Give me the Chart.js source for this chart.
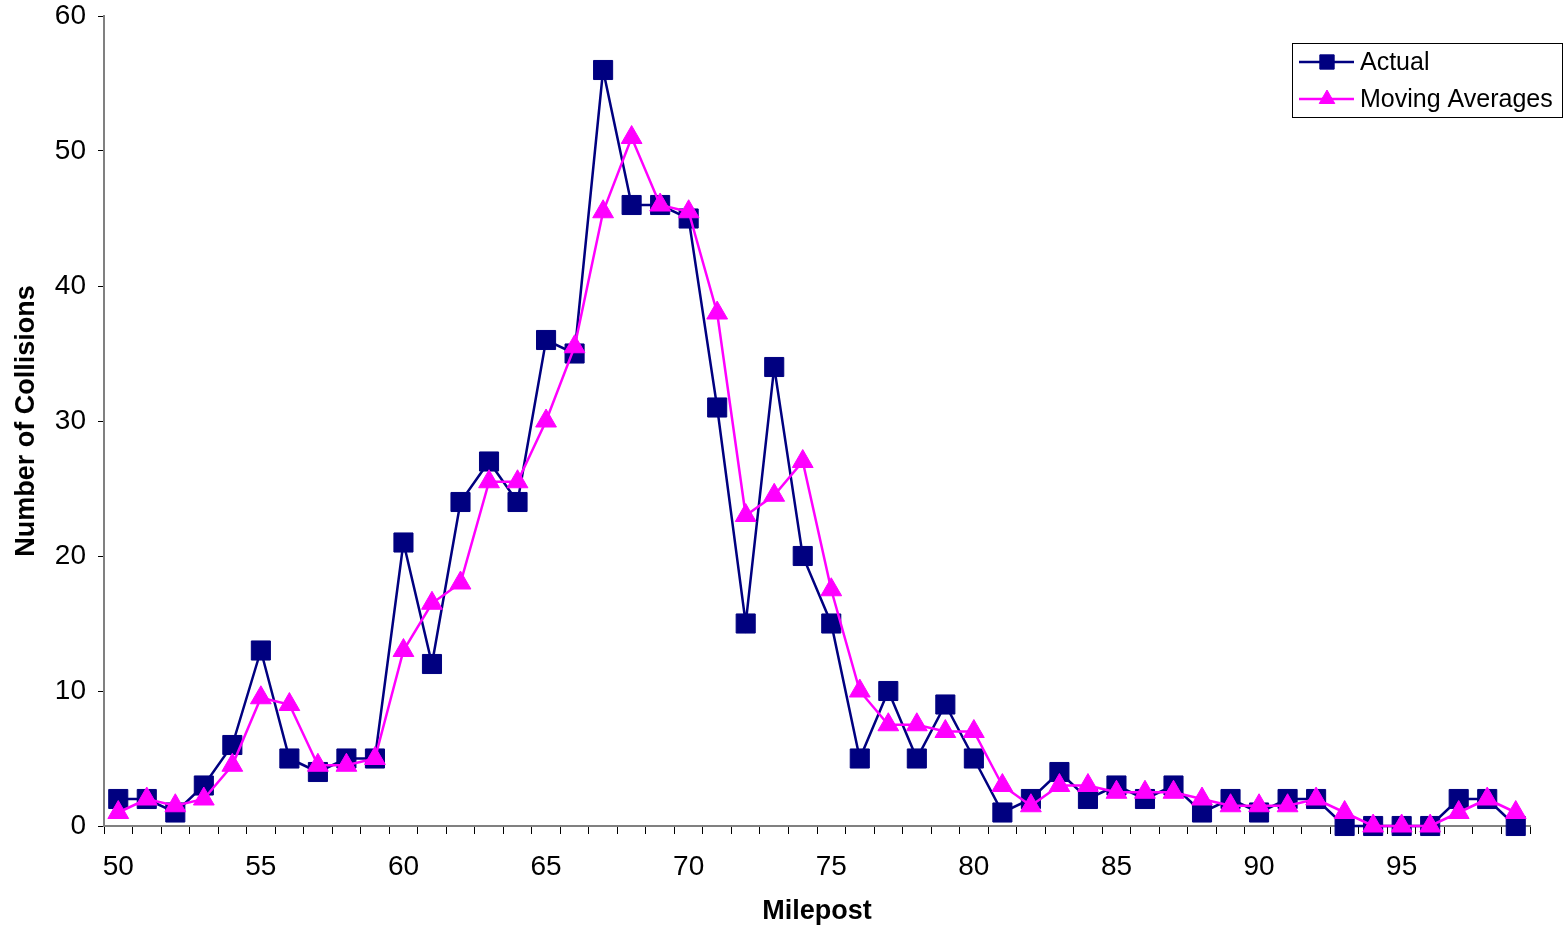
<!DOCTYPE html>
<html>
<head>
<meta charset="utf-8">
<script src="https://cdn.jsdelivr.net/npm/chart.js@4/dist/chart.umd.min.js"></script>
<style>
  html, body { margin: 0; padding: 0; background: #fff; }
  #wrap { width: 1564px; height: 930px; }
</style>
</head>
<body>
<div id="wrap"><canvas id="myChart"></canvas></div>
<script>
// mileposts 50..99
var mileposts = [50,51,52,53,54,55,56,57,58,59,60,61,62,63,64,65,66,67,68,69,
                 70,71,72,73,74,75,76,77,78,79,80,81,82,83,84,85,86,87,88,89,
                 90,91,92,93,94,95,96,97,98,99];
var actual = [2,2,1,3,6,13,5,4,5,5,21,12,24,27,24,36,35,56,46,46,
              45,31,15,34,20,15,5,10,5,9,5,1,2,4,2,3,2,3,1,2,
              1,2,2,0,0,0,0,2,2,0];
var movingAvg = [1,2,1.5,2,4.5,9.5,9,4.5,4.5,5,13,16.5,18,25.5,25.5,30,35.5,45.5,51,46,
                 45.5,38,23,24.5,27,17.5,10,7.5,7.5,7,7,3,1.5,3,3,2.5,2.5,2.5,2,1.5,
                 1.5,1.5,2,1,0,0,0,1,2,1];
var yTicks = [0,10,20,30,40,50,60];

var FONT = "'Liberation Sans', Arial, sans-serif";

// legend box drawn in the top right corner, like the excel original
var boxLegend = {
  id: 'boxLegend',
  afterDraw: function(chart) {
    var ctx = chart.ctx;
    var x0 = chart.chartArea.right - 238, y0 = 43, w = 270, h = 74;
    ctx.save();
    ctx.fillStyle = '#fff';
    ctx.fillRect(x0, y0, w, h);
    ctx.strokeStyle = '#000';
    ctx.lineWidth = 1;
    ctx.strokeRect(x0 + 0.5, y0 + 0.5, w, h);
    chart.data.datasets.forEach(function(ds, i) {
      var cy = y0 + 19 + i * 37;
      ctx.strokeStyle = ds.borderColor;
      ctx.lineWidth = ds.borderWidth;
      ctx.beginPath();
      ctx.moveTo(x0 + 7, cy);
      ctx.lineTo(x0 + 62, cy);
      ctx.stroke();
      ctx.fillStyle = ds.pointBackgroundColor;
      ctx.strokeStyle = ds.pointBorderColor;
      ctx.lineWidth = 1;
      Chart.helpers.drawPoint(ctx, {pointStyle: ds.pointStyle, radius: ds.pointRadius * 0.75, borderWidth: 1}, x0 + 35, cy);
      ctx.fillStyle = '#000';
      ctx.font = '25px ' + FONT;
      ctx.textBaseline = 'middle';
      ctx.textAlign = 'left';
      ctx.fillText(ds.label, x0 + 68, cy + 1);
    });
    ctx.restore();
  }
};

new Chart("myChart", {
  type: "line",
  data: {
    labels: mileposts,
    datasets: [{
      label: "Actual",
      data: actual,
      borderColor: "#000080",
      backgroundColor: "#000080",
      pointBackgroundColor: "#000080",
      pointBorderColor: "#000080",
      borderWidth: 2.5,
      pointStyle: "rect",
      pointRadius: 13.5,
      pointBorderWidth: 1,
      tension: 0,
      fill: false,
      clip: false,
      order: 1
    }, {
      label: "Moving Averages",
      data: movingAvg,
      borderColor: "#FF00FF",
      backgroundColor: "#FF00FF",
      pointBackgroundColor: "#FF00FF",
      pointBorderColor: "#FF00FF",
      borderWidth: 2.5,
      pointStyle: "triangle",
      pointRadius: 12,
      pointBorderWidth: 1,
      tension: 0,
      fill: false,
      clip: false,
      order: 0
    }]
  },
  options: {
    responsive: true,
    maintainAspectRatio: false,
    animation: false,
    layout: { padding: { top: 16, right: 34, left: 10, bottom: 2 } },
    plugins: {
      legend: { display: false },
      tooltip: { enabled: false }
    },
    scales: {
      x: {
        offset: true,
        border: { color: '#808080', width: 2 },
        grid: { offset: true, drawOnChartArea: false, drawTicks: true, tickLength: 8, color: '#000', lineWidth: 1 },
        afterFit: function(axis) { axis.height = 102; },
        ticks: {
          autoSkip: false,
          maxRotation: 0,
          padding: 16,
          color: '#000',
          font: { family: FONT, size: 28, lineHeight: 1.2 },
          callback: function(v, i) {
            var m = mileposts[i];
            return m % 5 === 0 ? String(m) : '';
          }
        },
        title: { display: true, text: 'Milepost', color: '#000', padding: { top: 12, bottom: 0 },
                 font: { family: FONT, size: 27, weight: 'bold' } }
      },
      y: {
        min: 0,
        max: 60,
        border: { color: '#808080', width: 2 },
        grid: { drawOnChartArea: false, drawTicks: true, tickLength: 6, color: '#000' },
        afterFit: function(axis) {
          axis.width = 94;
          axis.paddingTop = 0;
          axis.paddingBottom = 0;
        },
        afterBuildTicks: function(axis) {
          axis.ticks = yTicks.map(function(v) { return { value: v }; });
        },
        ticks: {
          padding: 12,
          color: '#000',
          font: { family: FONT, size: 28, lineHeight: 1 }
        },
        title: { display: true, text: 'Number of Collisions', color: '#000', padding: { top: 0, bottom: 12 },
                 font: { family: FONT, size: 27, weight: 'bold' } }
      }
    }
  },
  plugins: [boxLegend]
});
</script>
</body>
</html>
